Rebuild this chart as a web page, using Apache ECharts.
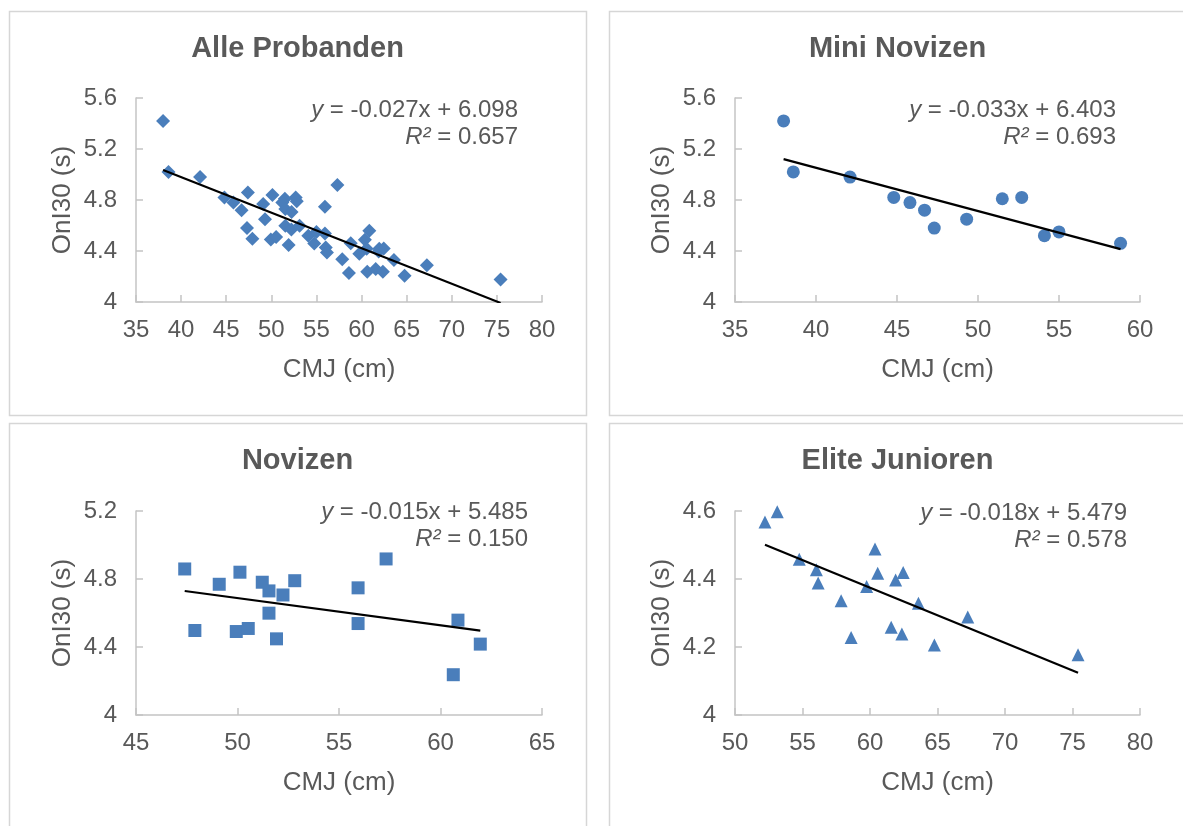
<!DOCTYPE html>
<html>
<head>
<meta charset="utf-8">
<script src="https://cdn.jsdelivr.net/npm/echarts@6/dist/echarts.min.js"></script>
<style>
html,body{margin:0;padding:0;background:#fff;}
#c{width:1183px;height:826px;}
</style>
</head>
<body>
<div id="c"></div>
<script>
// ---- data ----
const titles = ['Alle Probanden', 'Mini Novizen', 'Novizen', 'Elite Junioren'];
const xAxisName = 'CMJ (cm)';
const yAxisName = 'OnI30 (s)';

const miniX = [38.0, 38.6, 42.1, 44.8, 45.8, 46.7, 47.3, 49.3, 51.5, 52.7, 54.1, 55.0, 58.8];
const miniY = [5.42, 5.02, 4.98, 4.82, 4.78, 4.72, 4.58, 4.65, 4.81, 4.82, 4.52, 4.55, 4.46];

const noviX = [47.40, 47.90, 49.10, 50.12, 49.94, 50.53, 51.22, 51.55, 52.24, 51.55, 51.92, 52.82, 55.94, 55.94, 57.32, 60.86, 60.63, 61.96];
const noviY = [4.859, 4.497, 4.769, 4.840, 4.491, 4.509, 4.781, 4.730, 4.706, 4.599, 4.448, 4.790, 4.748, 4.538, 4.918, 4.558, 4.237, 4.417];

const eliteX = [52.22, 53.13, 54.76, 56.03, 56.16, 57.86, 58.60, 59.75, 60.37, 60.57, 61.90, 62.46, 61.57, 62.36, 63.59, 64.77, 67.24, 75.41];
const eliteY = [4.568, 4.598, 4.458, 4.427, 4.388, 4.336, 4.228, 4.378, 4.488, 4.417, 4.397, 4.419, 4.258, 4.238, 4.329, 4.206, 4.288, 4.177];

const eqTexts = ['-0.027x + 6.098', '-0.033x + 6.403', '-0.015x + 5.485', '-0.018x + 5.479'];
const r2Texts = ['0.657', '0.693', '0.150', '0.578'];

const xMins = [35, 35, 45, 50];
const xMaxs = [80, 60, 65, 80];
const yMins = [4, 4, 4, 4];
const yMaxs = [5.6, 5.6, 5.2, 4.6];
const yIntervals = [0.4, 0.4, 0.4, 0.2];

// ---- build ----
function pairs(xs, ys) { return xs.map((x, i) => [x, ys[i]]); }
const groups = [
  pairs(miniX.concat(noviX, eliteX), miniY.concat(noviY, eliteY)),
  pairs(miniX, miniY),
  pairs(noviX, noviY),
  pairs(eliteX, eliteY)
];
const symbols = ['diamond', 'circle', 'rect', 'triangle'];
const symbolSizes = [14, 13, 13, 13];

function fit(pts) {
  const n = pts.length;
  let sx = 0, sy = 0, sxx = 0, sxy = 0;
  pts.forEach(p => { sx += p[0]; sy += p[1]; sxx += p[0] * p[0]; sxy += p[0] * p[1]; });
  const b = (n * sxy - sx * sy) / (n * sxx - sx * sx);
  const a = (sy - b * sx) / n;
  const xs = pts.map(p => p[0]);
  const x0 = Math.min.apply(null, xs), x1 = Math.max.apply(null, xs);
  return [[x0, a + b * x0], [x1, a + b * x1]];
}

const FONT = '"Liberation Sans", Arial, Helvetica, sans-serif';
const TXT = '#595959';
const BLUE = '#4a7ebb';

const grids = [
  {left: 136, top: 98, width: 406, height: 204},
  {left: 735, top: 98, width: 405, height: 204},
  {left: 136, top: 511, width: 406, height: 204},
  {left: 735, top: 511, width: 405, height: 204}
];
const panels = [
  {x: 9.5, y: 11.5, w: 577, h: 404},
  {x: 609.5, y: 11.5, w: 600, h: 404},
  {x: 9.5, y: 423.5, w: 577, h: 420},
  {x: 609.5, y: 423.5, w: 600, h: 420}
];

const xAxes = [], yAxes = [], series = [], graphics = [];
for (let i = 0; i < 4; i++) {
  xAxes.push({
    type: 'value', gridIndex: i, min: xMins[i], max: xMaxs[i], interval: 5,
    axisLine: {show: true, onZero: false, lineStyle: {color: '#c4c4c4', width: 1.5}},
    axisTick: {show: true, inside: true, length: 7, lineStyle: {color: '#c4c4c4', width: 1.5}},
    splitLine: {show: false},
    axisLabel: {color: TXT, fontSize: 24, fontFamily: FONT, margin: 16},
    name: xAxisName, nameLocation: 'middle', nameGap: 55,
    nameTextStyle: {color: TXT, fontSize: 26, fontFamily: FONT}
  });
  yAxes.push({
    type: 'value', gridIndex: i, min: yMins[i], max: yMaxs[i], interval: yIntervals[i],
    axisLine: {show: true, onZero: false, lineStyle: {color: '#c4c4c4', width: 1.5}},
    axisTick: {show: true, inside: true, length: 7, lineStyle: {color: '#c4c4c4', width: 1.5}},
    splitLine: {show: false},
    axisLabel: {color: TXT, fontSize: 24, fontFamily: FONT, margin: 19},
    name: yAxisName, nameLocation: 'middle', nameGap: 60,
    nameTextStyle: {color: TXT, fontSize: 26, fontFamily: FONT}
  });
  series.push({
    type: 'scatter', xAxisIndex: i, yAxisIndex: i, data: groups[i],
    symbol: symbols[i], symbolSize: symbolSizes[i],
    itemStyle: {color: BLUE, opacity: 1}, silent: true, z: 2
  });
  series.push({
    type: 'line', xAxisIndex: i, yAxisIndex: i, data: fit(groups[i]),
    symbol: 'none', lineStyle: {color: '#000', width: 2.2}, silent: true, z: 3, clip: true
  });
  const p = panels[i];
  graphics.push({
    type: 'rect', shape: {x: p.x, y: p.y, width: p.w, height: p.h},
    style: {fill: 'none', stroke: '#d6d6d6', lineWidth: 1.5}, silent: true, z: 0
  });
  graphics.push({
    type: 'text', x: p.x + 288, y: p.y + 37,
    style: {text: titles[i], fill: TXT, font: 'bold 29px ' + FONT, align: 'center', verticalAlign: 'middle'},
    silent: true
  });
  const rx = [518, 1116, 528, 1127][i];
  const ry = [110, 110, 512, 513][i];
  graphics.push({
    type: 'text', x: rx, y: ry,
    style: {
      text: '{i|y} = ' + eqTexts[i], fill: TXT, font: '24px ' + FONT, align: 'right', verticalAlign: 'middle',
      rich: {i: {fontStyle: 'italic', fontSize: 24, fontFamily: FONT, fill: TXT}}
    },
    silent: true
  });
  graphics.push({
    type: 'text', x: rx, y: ry + 27,
    style: {
      text: '{i|R²} = ' + r2Texts[i], fill: TXT, font: '24px ' + FONT, align: 'right', verticalAlign: 'middle',
      rich: {i: {fontStyle: 'italic', fontSize: 24, fontFamily: FONT, fill: TXT}}
    },
    silent: true
  });
}

const chart = echarts.init(document.getElementById('c'), null, {renderer: 'canvas'});
chart.setOption({
  animation: false,
  backgroundColor: '#fff',
  textStyle: {fontFamily: FONT},
  grid: grids,
  xAxis: xAxes,
  yAxis: yAxes,
  series: series,
  graphic: graphics
});
</script>
</body>
</html>
